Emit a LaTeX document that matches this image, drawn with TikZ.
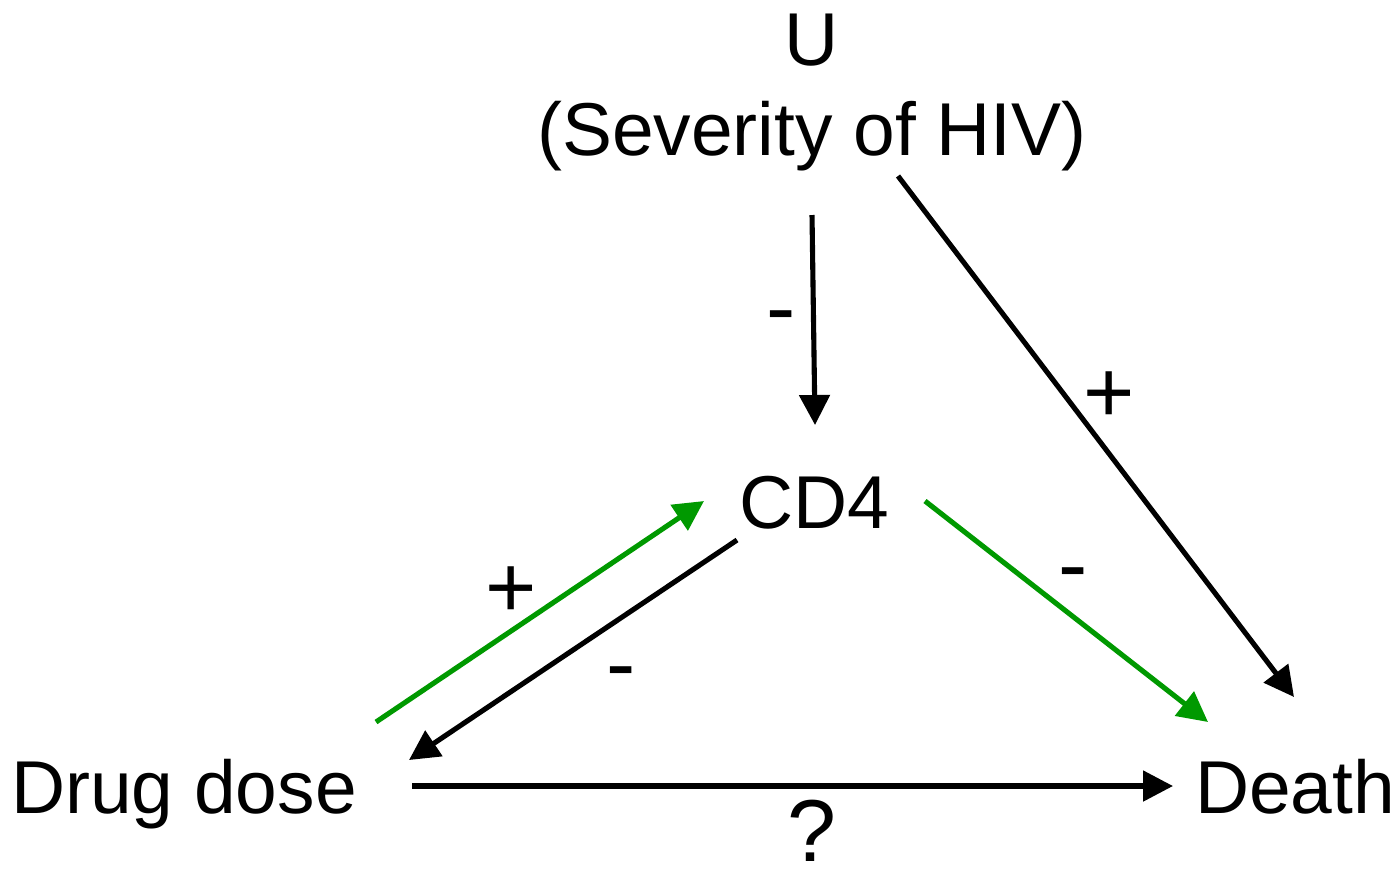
\documentclass[tikz,border=0pt]{standalone}
\usepackage{fontspec}
\setmainfont{Liberation Sans}
\usetikzlibrary{arrows.meta,calc}
\definecolor{pathgreen}{RGB}{0,153,0}
\tikzset{
  var/.style={inner sep=0pt,anchor=base,font=\fontsize{21.3}{25}\selectfont},
  sgn/.style={inner sep=0pt,anchor=base,font=\fontsize{25}{30}\selectfont},
  ge/.style={-{Triangle[length=0.3cm,width=0.3cm]},line width=1.45pt},
  geg/.style={ge,pathgreen},
}

\begin{document}
\begin{tikzpicture}[x=0.01cm,y=-0.01cm]
  \useasboundingbox (0,0) rectangle (1398,869);
  \node[var] (u) at (812,65) {U};
  \node[var] (usev) at (812,155) {(Severity of HIV)};
  \node[var] (cd4) at (814,528) {CD4};
  \node[var] (drug) at (184,813) {Drug dose};
  \node[var] (death) at (1295,813) {Death};
  % causal edges
  \draw[ge] ($(usev.base)+(0,60)$) -- ($(cd4.base)+(1,-103)$);
  \draw[ge] ($(usev.base)+(86,21)$) -- ($(death.base)+(-1,-116)$);
  \draw[geg] ($(cd4.base)+(111,-27)$) -- ($(death.base)+(-87,-91)$);
  \draw[geg] ($(drug.base)+(192,-91)$) -- ($(cd4.base)+(-110,-27)$);
  \draw[ge] ($(cd4.base)+(-77,12)$) -- ($(drug.base)+(225,-53)$);
  \draw[ge] ($(drug.base)+(228,-27)$) -- ($(death.base)+(-122,-27)$);
  % signs
  \node[sgn] (s1) at (781,337) {-};
  \node[sgn] (s2) at (1109,422) {+};
  \node[sgn] (s3) at (511,617) {+};
  \node[sgn] (s4) at (621,693) {-};
  \node[sgn] (s5) at (1073,594) {-};
  \node[sgn,anchor=center] (q) at (812,831) {?};
\end{tikzpicture}
\end{document}
